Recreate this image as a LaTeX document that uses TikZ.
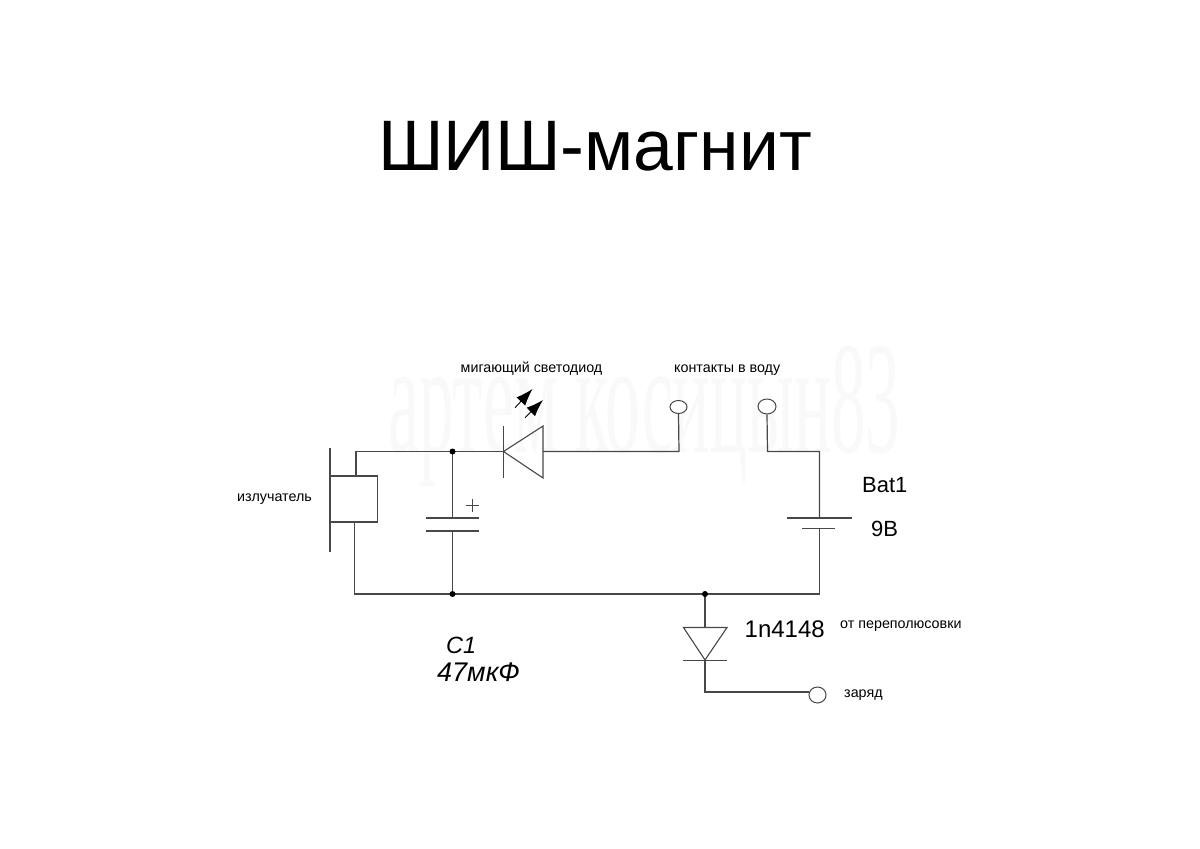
\documentclass[tikz,border=0pt]{standalone}
\usepackage{fontspec}
\setmainfont{Liberation Sans}
\newfontfamily\wmfont{Liberation Serif}
\usetikzlibrary{arrows.meta,shapes.geometric}
\definecolor{wire}{HTML}{484848}
\tikzset{
  wirepath/.style={draw=wire,line width=1.2pt,line join=miter},
  symbol/.style={draw=wire,line width=1.1pt},
  junction/.style={circle,fill=black,inner sep=0pt,minimum size=6pt},
  terminal/.style={ellipse,draw=wire,line width=1pt,fill=white,inner sep=0pt},
  lab/.style={anchor=base west,inner sep=0pt,text=black},
  small/.style={lab,font=\fontsize{14.3}{16}\selectfont},
  mid/.style={lab,font=\fontsize{22}{24}\selectfont},
  ledray/.style={line width=0.9pt,draw=black,-{Latex[length=17pt,width=12pt]}}
}
\begin{document}
\begin{tikzpicture}[x=1pt,y=-1pt]
\useasboundingbox (0,0) rectangle (1200,849);
\fill[white] (0,0) rectangle (1200,849);
% watermark
\node[anchor=base west,inner sep=0pt,text=black!2.5,xscale=0.695,yscale=1.6,font=\wmfont\fontsize{100}{100}\selectfont] (wm) at (388,452) {артем косицын83};
% title
\node[lab,font=\fontsize{71.5}{80}\selectfont] (title) at (378,170) {ШИШ-магнит};
% labels
\node[small] (l1) at (460.5,372.5) {мигающий светодиод};
\node[small] (l2) at (674,372) {контакты в воду};
\node[small] (l3) at (237,501) {излучатель};
\node[small] (l4) at (840,628.5) {от переполюсовки};
\node[small] (l5) at (844,697) {заряд};
\node[mid] (l6) at (862,492) {Bat1};
\node[mid] (l7) at (871,536) {9В};
\node[lab,font=\fontsize{24}{26}\selectfont] (l8) at (744.5,637) {1n4148};
\node[lab,font=\fontsize{23.5}{25}\selectfont\itshape] (l9) at (446,653) {C1};
\node[lab,font=\fontsize{27}{29}\selectfont\itshape] (l10) at (437,681) {47мкФ};
% key points
\coordinate (spkT) at (356,476);
\coordinate (spkB) at (354.5,522);
\coordinate (cornTL) at (356,451.5);
\coordinate (cornBL) at (354.5,594);
\coordinate (ledK) at (503.5,451.5);
\coordinate (ledA) at (543,451.5);
\coordinate (capT) at (452.5,518);
\coordinate (capB) at (452.5,531);
\coordinate (batT) at (819.5,518);
\coordinate (batB) at (819.5,528.5);
\coordinate (dA) at (705,627.5);
\coordinate (dK) at (705,660);
\coordinate (J1) at (452.5,451.5);
\coordinate (J2) at (452.5,594);
\coordinate (J3) at (705,594);
\node[terminal,minimum width=17pt,minimum height=13pt] (t1) at (678.5,407) {};
\node[terminal,minimum width=18pt,minimum height=15pt] (t2) at (767,406.5) {};
\node[terminal,minimum width=17pt,minimum height=16pt] (t3) at (817.5,695) {};
% wires
\draw[wirepath] (spkT) -- (cornTL) -- (J1) -- (ledK);
\draw[wirepath] (ledA) -- (679,451.5) -- (t1.south);
\draw[wirepath] (t2.south) -- (767.5,451.5) -- (819.5,451.5) -- (batT);
\draw[wirepath] (batB) -- (819.5,594) -- (J3) -- (J2) -- (cornBL) -- (spkB);
\draw[wirepath] (J1) -- (capT);
\draw[wirepath] (capB) -- (J2);
\draw[wirepath] (J3) -- (dA);
\draw[wirepath] (dK) -- (705,692) -- (t3.west |- 0,692);
\node[junction] (j1) at (J1) {};
\node[junction] (j2) at (J2) {};
\node[junction] (j3) at (J3) {};
% speaker
\draw[symbol] (330,448) -- (330,552);
\draw[symbol] (330,476) -- (377.5,476) -- (377.5,522) -- (330,522);
% capacitor
\draw[symbol] (426,518) -- (479,518);
\draw[symbol] (426,531) -- (479,531);
\draw[symbol,line width=0.8pt] (466,505) -- (479,505) (472.5,498.5) -- (472.5,511.5);
% LED
\draw[symbol] (503.5,426) -- (503.5,478);
\draw[symbol] (503.5,451.5) -- (543,426) -- (543,478) -- cycle;
\draw[ledray] (515,407.7) -- (532.5,389);
\draw[ledray] (525,417.7) -- (543,400);
% battery
\draw[symbol] (787,518) -- (852,518);
\draw[symbol] (802,528.5) -- (834.5,528.5);
% diode
\draw[symbol] (683.5,627.5) -- (727,627.5) -- (705,660) -- cycle;
\draw[symbol] (683,660.5) -- (726.5,660.5);
\end{tikzpicture}
\end{document}
